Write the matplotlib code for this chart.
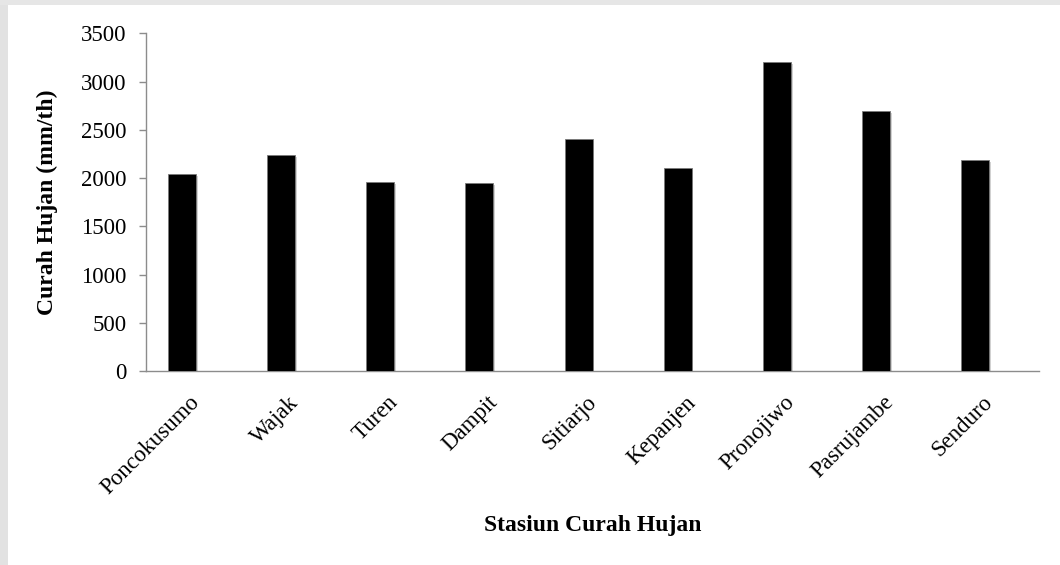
"""Annual rainfall per rain gauge station (bar chart)."""
import numpy as np
import matplotlib
matplotlib.use("Agg")
import matplotlib.pyplot as plt
import matplotlib.transforms as mtransforms
from matplotlib import patheffects
from matplotlib.patches import Rectangle

plt.rcParams.update({
    "font.family": ["Liberation Serif", "DejaVu Serif"],
    "font.size": 17,
    "figure.dpi": 100,
})

stations = ["Poncokusumo", "Wajak", "Turen", "Dampit", "Sitiarjo",
            "Kepanjen", "Pronojiwo", "Pasrujambe", "Senduro"]
rainfall = [2040, 2240, 1960, 1945, 2400, 2105, 3200, 2690, 2185]
yticks = [0, 500, 1000, 1500, 2000, 2500, 3000, 3500]

AXIS_GREY = "#8c8c8c"

fig = plt.figure(figsize=(10.6, 5.65))
fig.patch.set_facecolor("white")

# faint page border left over around the chart box
fig.patches.append(Rectangle((0, 0), 8 / 1060, 1, transform=fig.transFigure,
                             facecolor="#e2e2e2", edgecolor="none", zorder=0))
fig.patches.append(Rectangle((0, 1 - 5 / 565), 1, 5 / 565, transform=fig.transFigure,
                             facecolor="#e6e6e6", edgecolor="none", zorder=0))

ax = fig.add_axes([0.1377, 0.3434, 0.8425, 0.5976])
x = np.arange(len(stations))
bars = ax.bar(x, rainfall, width=0.282, color="black", edgecolor="#7a7a7a",
              linewidth=0.6, zorder=3)
for b in bars:
    b.set_path_effects([patheffects.SimplePatchShadow(offset=(1.2, -1.2),
                                                      shadow_rgbFace="#000000",
                                                      alpha=0.18),
                        patheffects.Normal()])

ax.set_xlim(-0.363, 8.642)
ax.set_ylim(0, 3500)
ax.set_yticks(yticks)
ax.set_xticks(x)

for side in ("top", "right"):
    ax.spines[side].set_visible(False)
for side in ("left", "bottom"):
    ax.spines[side].set_color(AXIS_GREY)
    ax.spines[side].set_linewidth(1.0)

ax.tick_params(axis="y", direction="out", length=5, width=1.0,
               color=AXIS_GREY, pad=9, labelsize=16.5)
ax.tick_params(axis="x", length=0, pad=15, labelsize=16.5)

ax.set_xticklabels(stations, rotation=45, ha="right", va="top",
                   rotation_mode="anchor")
# nudge the slanted names a little to the right of each bar
shift = mtransforms.ScaledTranslation(7 / 100, 0, fig.dpi_scale_trans)
for lab in ax.get_xticklabels():
    lab.set_transform(lab.get_transform() + shift)

ax.set_ylabel("Curah Hujan (mm/th)", fontsize=17, fontweight="bold")
ax.yaxis.set_label_coords(-0.098, 0.5)
ax.set_xlabel("Stasiun Curah Hujan", fontsize=17, fontweight="bold")
ax.xaxis.set_label_coords(0.5, -(526 - 371) / 337.7)
ax.xaxis.label.set_va("center")

fig.savefig("out.png", dpi=100, facecolor=fig.get_facecolor())
